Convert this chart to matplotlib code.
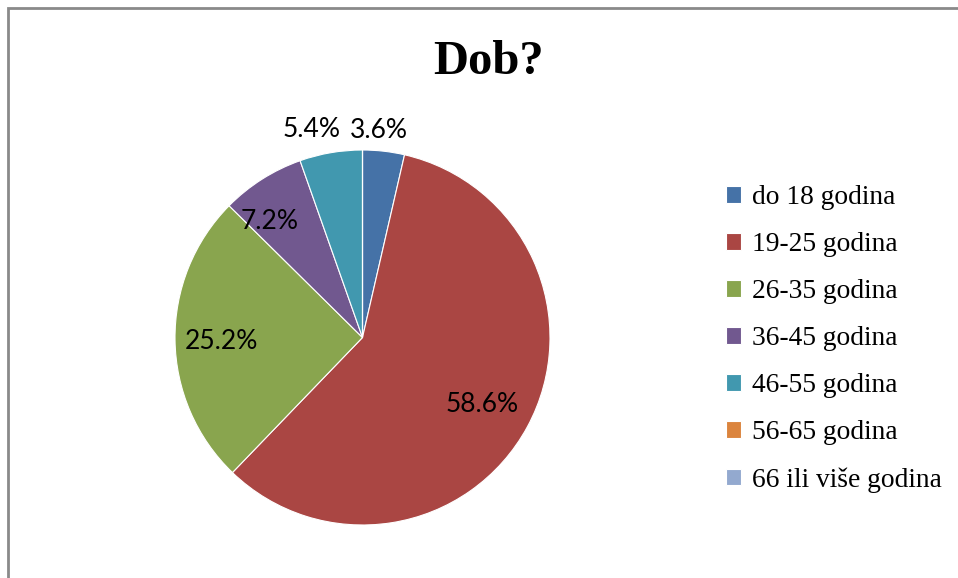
import numpy as np
import matplotlib.pyplot as plt
from matplotlib.patches import Rectangle

# data
categories = ['do 18 godina', '19-25 godina', '26-35 godina', '36-45 godina',
              '46-55 godina', '56-65 godina', '66 ili više godina']
shares = [3.6, 58.6, 25.2, 7.2, 5.4, 0.0, 0.0]
colors = ['#4572A7', '#AA4643', '#89A54E', '#71588F', '#4198AF', '#DB843D', '#93A9CF']

# how far from the centre each percentage label sits (fraction of radius)
label_radius = [1.12, 0.725, 0.755, 0.80, 1.15, 1.0, 1.0]
label_shift = [2, 0, 0, 6, 4, 0, 0]  # degrees, nudges to match the original placement

W, H = 958, 578
fig = plt.figure(figsize=(W / 100, H / 100), dpi=100)
fig.patch.set_facecolor('white')

# frame of the chart area (only the top and left edges are visible)
fig.add_artist(Rectangle((8 / W, -0.2), 1.2, 1.2 - 8 / H,
                         transform=fig.transFigure, fill=False,
                         edgecolor='#8a8a8a', linewidth=2))

cx, cy, r = 362.5, 337.5, 187.5
ax = fig.add_axes([(cx - r) / W, (H - cy - r) / H, 2 * r / W, 2 * r / H])
wedges, _ = ax.pie(shares, colors=colors, startangle=90, counterclock=False,
                   radius=1, wedgeprops=dict(edgecolor='white', linewidth=0.8))
ax.set_xlim(-1, 1)
ax.set_ylim(-1, 1)
ax.set_aspect('equal')
ax.axis('off')

# percentage labels
start = 90.0
total = sum(shares)
for val, rf, sh in zip(shares, label_radius, label_shift):
    span = 360.0 * val / total
    mid = start - span / 2
    start -= span
    if val == 0:
        continue
    a = np.deg2rad(mid + sh)
    ax.text(rf * np.cos(a), rf * np.sin(a) - 0.01, f'{val:.1f}%', ha='center', va='center',
            fontsize=19, family='Lato', color='black')

fig.text(488 / W, 1 - 62 / H, 'Dob?', ha='center', va='center',
         fontsize=35, fontweight='bold', family='Liberation Serif')

fig.legend(wedges, categories, loc='center left',
           bbox_to_anchor=(715 / W, 1 - 339 / H), frameon=False,
           prop={'family': 'Liberation Serif', 'size': 19.8},
           handlelength=0.55, handleheight=0.55, handletextpad=0.4,
           labelspacing=0.8, borderaxespad=0)

fig.savefig('out.png', dpi=100)
